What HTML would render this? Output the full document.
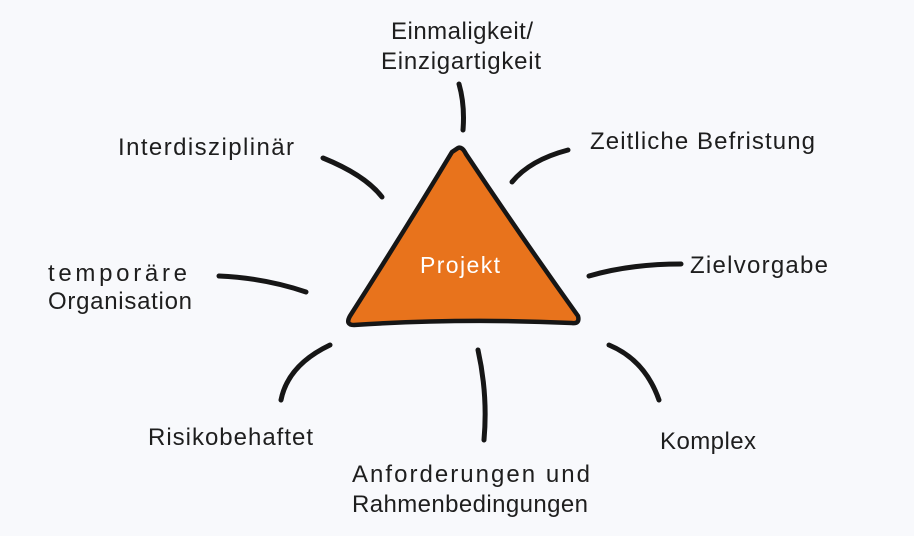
<!DOCTYPE html>
<html><head><meta charset="utf-8"><style>
html,body{margin:0;padding:0;background:#f8f9fc;}
svg{display:block}
text{font-family:"Liberation Sans",sans-serif;font-size:24px;fill:#1e1e1e;}
</style></head><body>
<svg width="914" height="536" viewBox="0 0 914 536">
<rect width="914" height="536" fill="#f8f9fc"/>
<g fill="none" stroke="#161616" stroke-width="5" stroke-linecap="round">
<path d="M459 84 Q465 105 463 130"/>
<path d="M512 182 Q530 160 568 150"/>
<path d="M589 276 Q630 264 681 264"/>
<path d="M609 345 Q645 360 659 400"/>
<path d="M478 350 Q488 395 484 440"/>
<path d="M330 345 Q288 365 281 400"/>
<path d="M219 276 Q265 278 306 292"/>
<path d="M323 158 Q365 175 382 197"/>
</g>
<path d="M458 148 Q462 146 466 154 Q520 235 578 316 Q580 324 572 323 Q460 318 354 325 Q345 325 350 316 Q405 230 452 152 Z" fill="#e8731c" stroke="#161616" stroke-width="4.5" stroke-linejoin="round"/>
<text x="420" y="273" textLength="80" style="fill:#fff;font-size:23px">Projekt</text>
<text x="391" y="39" textLength="142">Einmaligkeit/</text>
<text x="381" y="69" textLength="160">Einzigartigkeit</text>
<text x="118" y="155" textLength="176">Interdisziplinär</text>
<text x="590" y="149" textLength="225">Zeitliche Befristung</text>
<text x="48" y="281" textLength="139">temporäre</text>
<text x="48" y="309" textLength="144">Organisation</text>
<text x="690" y="273" textLength="138">Zielvorgabe</text>
<text x="148" y="445" textLength="165">Risikobehaftet</text>
<text x="660" y="449" textLength="96">Komplex</text>
<text x="352" y="482" textLength="238">Anforderungen und</text>
<text x="352" y="512" textLength="236">Rahmenbedingungen</text>
</svg>
</body></html>
